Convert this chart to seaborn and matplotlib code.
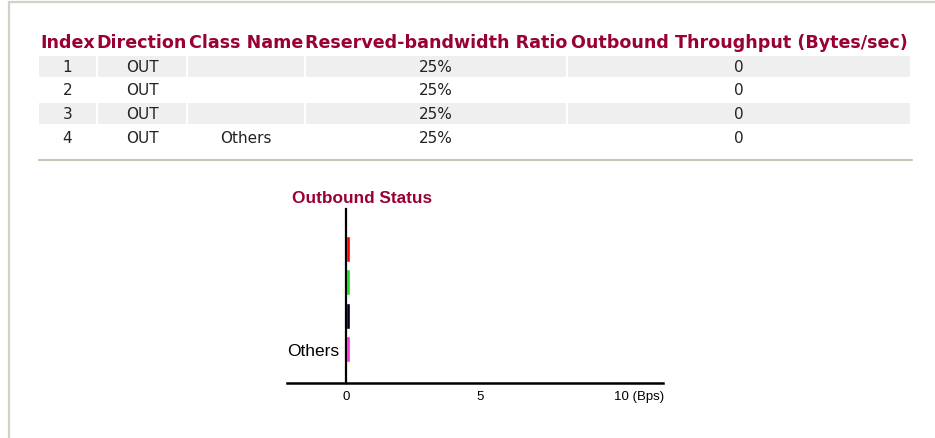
import numpy as np
import pandas as pd
import matplotlib
matplotlib.use("Agg")
import matplotlib.pyplot as plt
from matplotlib.lines import Line2D
from matplotlib.patches import Rectangle
import seaborn as sns

# table data
headers = ["Index", "Direction", "Class Name", "Reserved-bandwidth Ratio", "Outbound Throughput (Bytes/sec)"]
index = ["1", "2", "3", "4"]
direction = ["OUT", "OUT", "OUT", "OUT"]
class_name = ["", "", "", "Others"]
ratio = ["25%", "25%", "25%", "25%"]
throughput = [0, 0, 0, 0]

# chart data
bar_colors = ["#ff0000", "#22dd22", "#000022", "#ff33dd"]
x_ticks = [0, 5, 10]
x_ticklabels = ["0", "5", "10 (Bps)"]

W, H = 935, 439
MAROON = "#990033"


def fx(x):
    return x / W


def fy(y):
    return 1 - y / H


sns.set_theme(style="white")
plt.rcParams["font.family"] = ["DejaVu Sans"]

fig = plt.figure(figsize=(W / 100, H / 100), dpi=100)
fig.patch.set_facecolor("white")

# page frame
fig.add_artist(Line2D([fx(9), fx(935)], [fy(3), fy(3)], color="#d4d0c8", lw=1.6))
fig.add_artist(Line2D([fx(9), fx(9)], [fy(3), fy(439)], color="#d4d0c8", lw=1.6))

# table
cols = [(39, 96), (98, 186), (188, 304), (306, 566), (568, 910)]
row_y = [67 + 23.7 * i for i in range(len(index))]

for (x0, x1), h in zip(cols, headers):
    fig.text(fx((x0 + x1) / 2), fy(43), h, ha="center", va="center",
             fontsize=12.6, fontweight="bold", color=MAROON)

for i, yc in enumerate(row_y):
    if i % 2 == 0:
        for x0, x1 in cols:
            fig.add_artist(Rectangle((fx(x0), fy(yc + 10.5)), fx(x1 - x0), 21 / H,
                                     transform=fig.transFigure, facecolor="#efefef",
                                     edgecolor="none"))
    row = [index[i], direction[i], class_name[i], ratio[i], str(throughput[i])]
    for (x0, x1), val in zip(cols, row):
        fig.text(fx((x0 + x1) / 2), fy(yc), val, ha="center", va="center",
                 fontsize=11, color="#222222")

fig.add_artist(Line2D([fx(39), fx(912)], [fy(161), fy(161)], color="#c8c8b8", lw=1.6))

# chart
fig.text(fx(292), fy(199), "Outbound Status", ha="left", va="center",
         fontsize=12.4, fontweight="bold", color=MAROON, family="Liberation Sans")

ax = fig.add_axes([fx(287), fy(384), fx(663 - 287), (384 - 210) / H])
ax.patch.set_alpha(0)

df = pd.DataFrame({"idx": index, "name": class_name, "value": throughput})
# zero rates are still drawn as a thin stub, like the router page does
min_bar = 0.15
df["shown"] = np.maximum(df["value"], min_bar)

sns.barplot(data=df, x="shown", y="idx", hue="idx", palette=bar_colors,
            orient="h", width=0.78, legend=False, ax=ax, saturation=1)

ax.set_xlim(-2.2, 11.83)
ax.set_ylim(4.02, -1.2)
ax.set_xlabel("")
ax.set_ylabel("")

for s in ["top", "right"]:
    ax.spines[s].set_visible(False)
ax.spines["left"].set_position(("data", 0))
ax.spines["left"].set_color("black")
ax.spines["left"].set_linewidth(1.6)
ax.spines["bottom"].set_color("black")
ax.spines["bottom"].set_linewidth(1.8)

ax.set_yticks(range(len(class_name)))
ax.set_yticklabels(class_name, fontsize=12.5, family="Liberation Sans", color="black")
ax.tick_params(axis="y", length=0, pad=5)

ax.set_xticks(x_ticks)
ax.set_xticklabels(x_ticklabels, fontsize=9.5, family="Liberation Sans", color="black")
ax.tick_params(axis="x", length=0, pad=5)
ax.get_xticklabels()[-1].set_horizontalalignment("left")

fig.savefig("out.png", dpi=100)
